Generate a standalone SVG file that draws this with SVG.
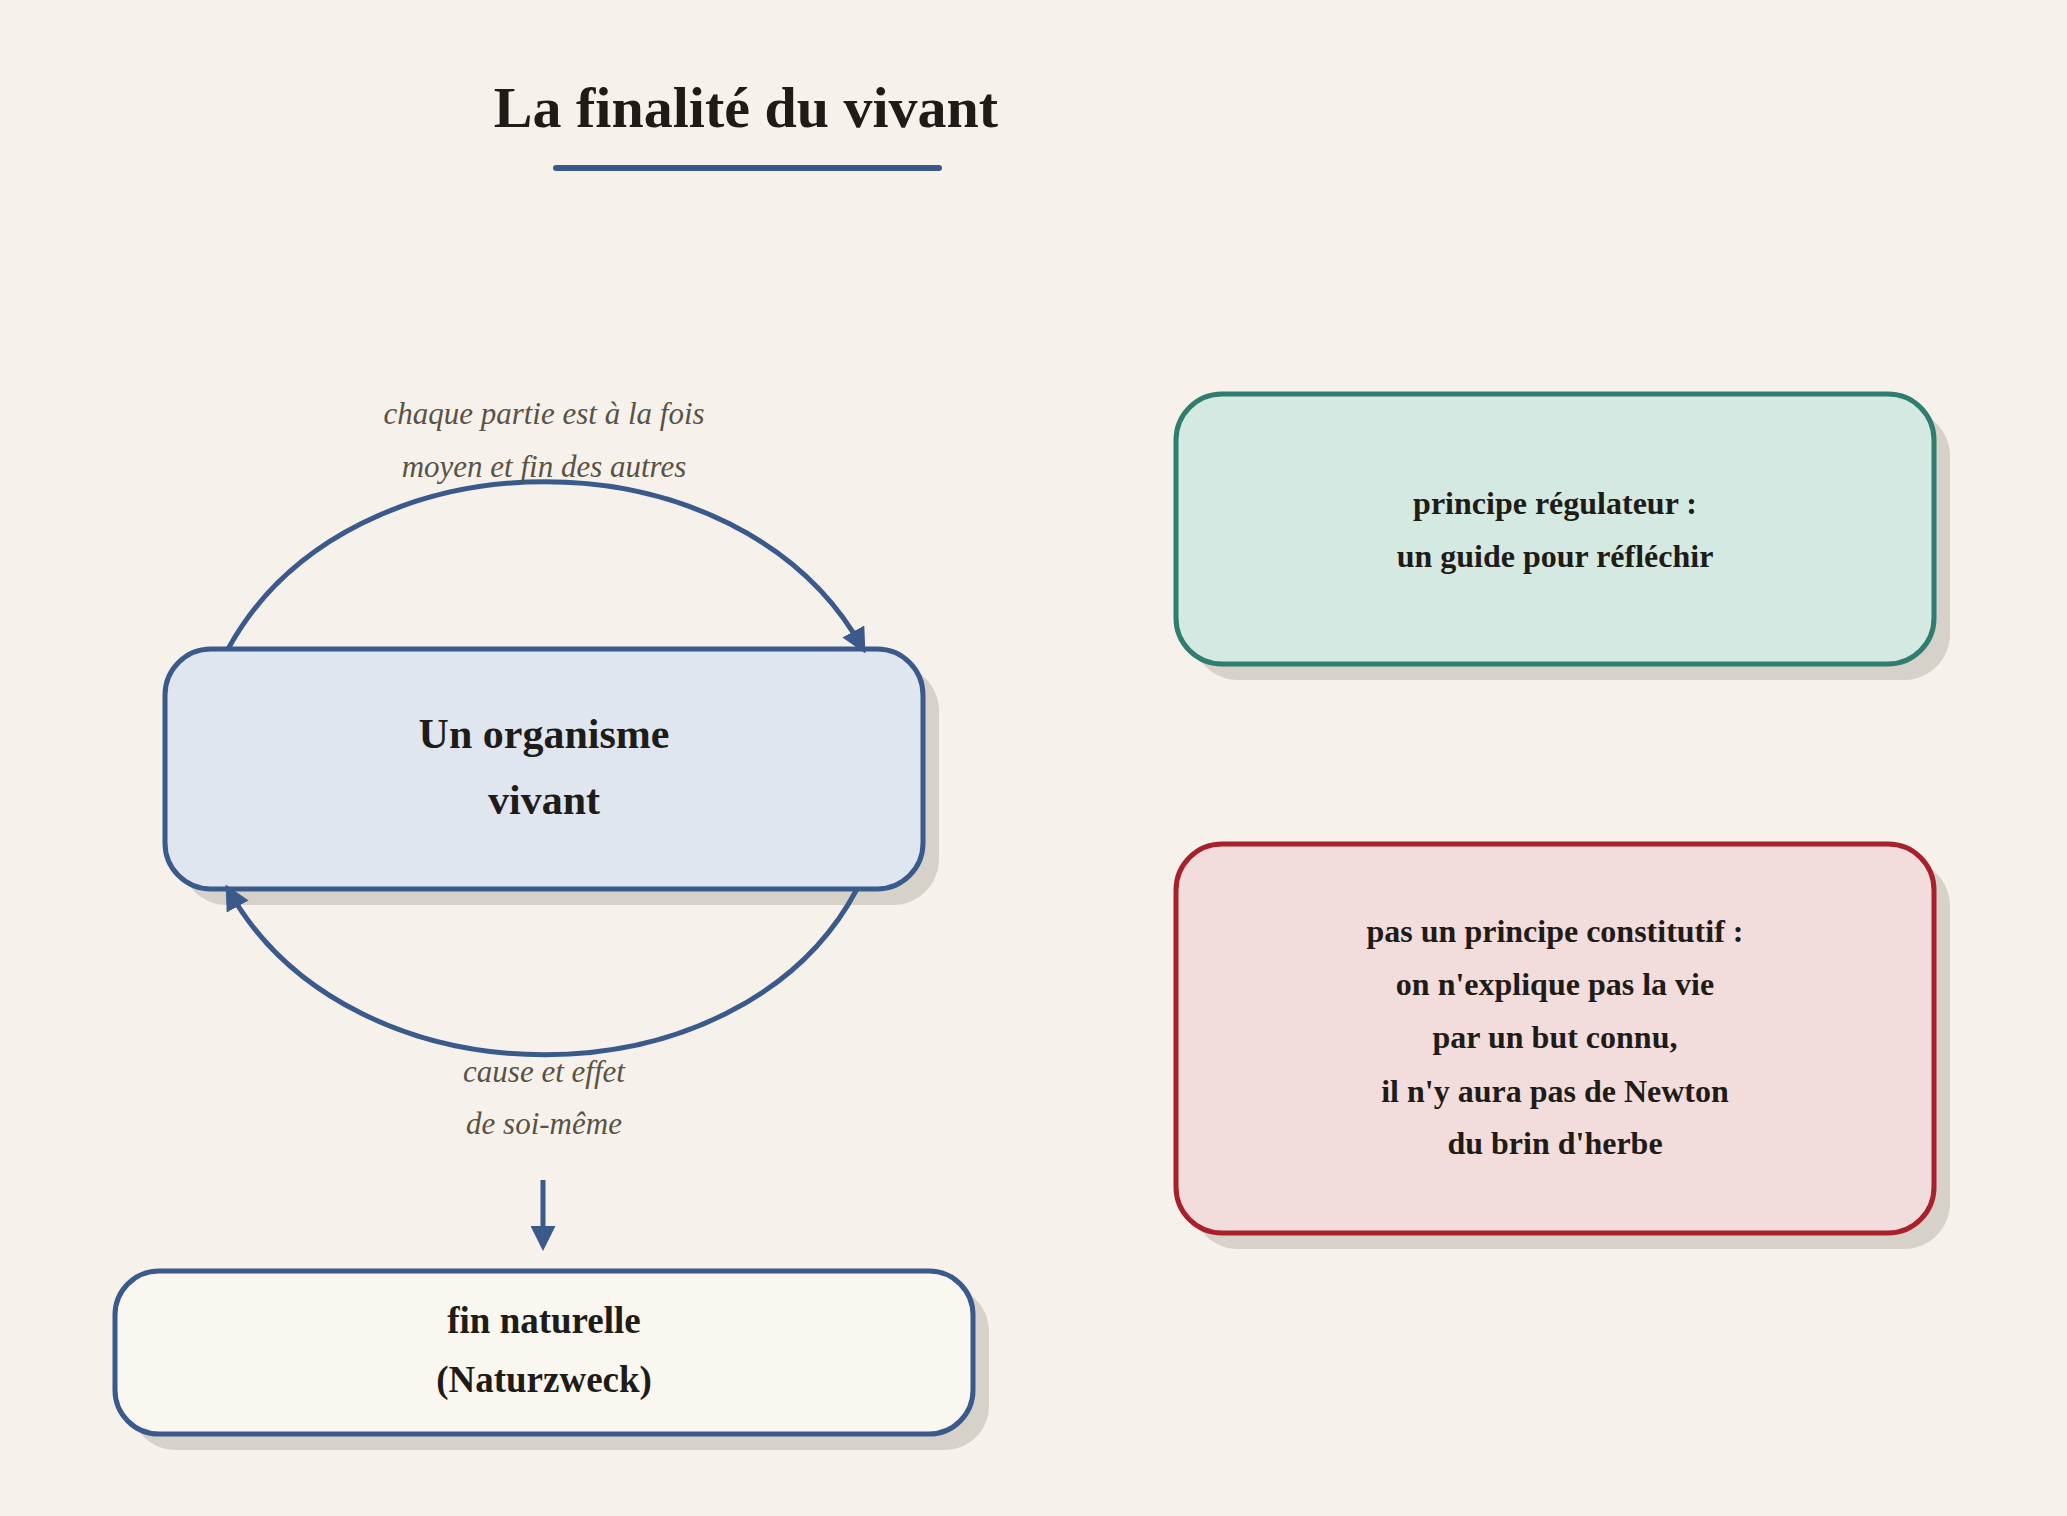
<svg xmlns="http://www.w3.org/2000/svg" width="2067" height="1516" viewBox="0 0 2067 1516">
<style>
.t{font-family:"Liberation Serif","DejaVu Serif",serif;font-weight:bold;fill:#1f1c18;text-anchor:middle}
.l{font-family:"Liberation Serif","DejaVu Serif",serif;font-style:italic;fill:#5a5244;text-anchor:middle;font-size:31px}
.sh{fill:#d6d1c9}
.c{fill:none;stroke:#3a5a8c;stroke-width:5}
</style>
<defs>
<marker id="ah" viewBox="0 0 10 10" refX="8" refY="5" markerWidth="5" markerHeight="5" orient="auto" markerUnits="strokeWidth"><path d="M0,0 L10,5 L0,10 Z" fill="#3a5a8c"/></marker>
</defs>
<rect width="2067" height="1516" fill="#f6f2eb"/>
<g id="title">
<text class="t" x="746" y="127" font-size="58">La finalité du vivant</text>
<line x1="556" y1="168" x2="939" y2="168" stroke="#3a5a8c" stroke-width="6" stroke-linecap="round"/>
</g>
<g id="organisme">
<rect class="sh" x="181" y="665" width="758" height="240" rx="46"/>
<rect x="165" y="649" width="758" height="240" rx="46" fill="#dfe6f0" stroke="#3a5a8c" stroke-width="5"/>
<text class="t" x="544" y="748" font-size="42">Un organisme</text>
<text class="t" x="544" y="814" font-size="42">vivant</text>
</g>
<g id="fin">
<rect class="sh" x="131" y="1287" width="858" height="163" rx="44"/>
<rect x="115" y="1271" width="858" height="163" rx="44" fill="#faf7f1" stroke="#3a5a8c" stroke-width="5"/>
<text class="t" x="544" y="1333" font-size="37">fin naturelle</text>
<text class="t" x="544" y="1392" font-size="37">(Naturzweck)</text>
</g>
<g id="regulateur">
<rect class="sh" x="1192" y="410" width="758" height="270" rx="46"/>
<rect x="1176" y="394" width="758" height="270" rx="46" fill="#d4e9e2" stroke="#2e7d6e" stroke-width="5"/>
<text class="t" x="1555" y="514" font-size="32">principe régulateur :</text>
<text class="t" x="1555" y="567" font-size="32">un guide pour réfléchir</text>
</g>
<g id="constitutif">
<rect class="sh" x="1192" y="860" width="758" height="389" rx="46"/>
<rect x="1176" y="844" width="758" height="389" rx="46" fill="#f3dcdc" stroke="#a8202a" stroke-width="5"/>
<text class="t" x="1555" y="942" font-size="32">pas un principe constitutif :</text>
<text class="t" x="1555" y="995" font-size="32">on n'explique pas la vie</text>
<text class="t" x="1555" y="1048" font-size="32">par un but connu,</text>
<text class="t" x="1555" y="1102" font-size="32">il n'y aura pas de Newton</text>
<text class="t" x="1555" y="1154" font-size="32">du brin d'herbe</text>
</g>
<g id="connectors">
<path class="c" d="M228,649 C350,426 740,426 863,649" marker-end="url(#ah)"/>
<path class="c" d="M857,889 C740,1110 350,1110 228,889" marker-end="url(#ah)"/>
<path class="c" d="M543,1180 L543,1246" marker-end="url(#ah)"/>
<text class="l" x="544" y="424">chaque partie est à la fois</text>
<text class="l" x="544" y="477">moyen et fin des autres</text>
<text class="l" x="544" y="1082">cause et effet</text>
<text class="l" x="544" y="1134">de soi-même</text>
</g>
</svg>
